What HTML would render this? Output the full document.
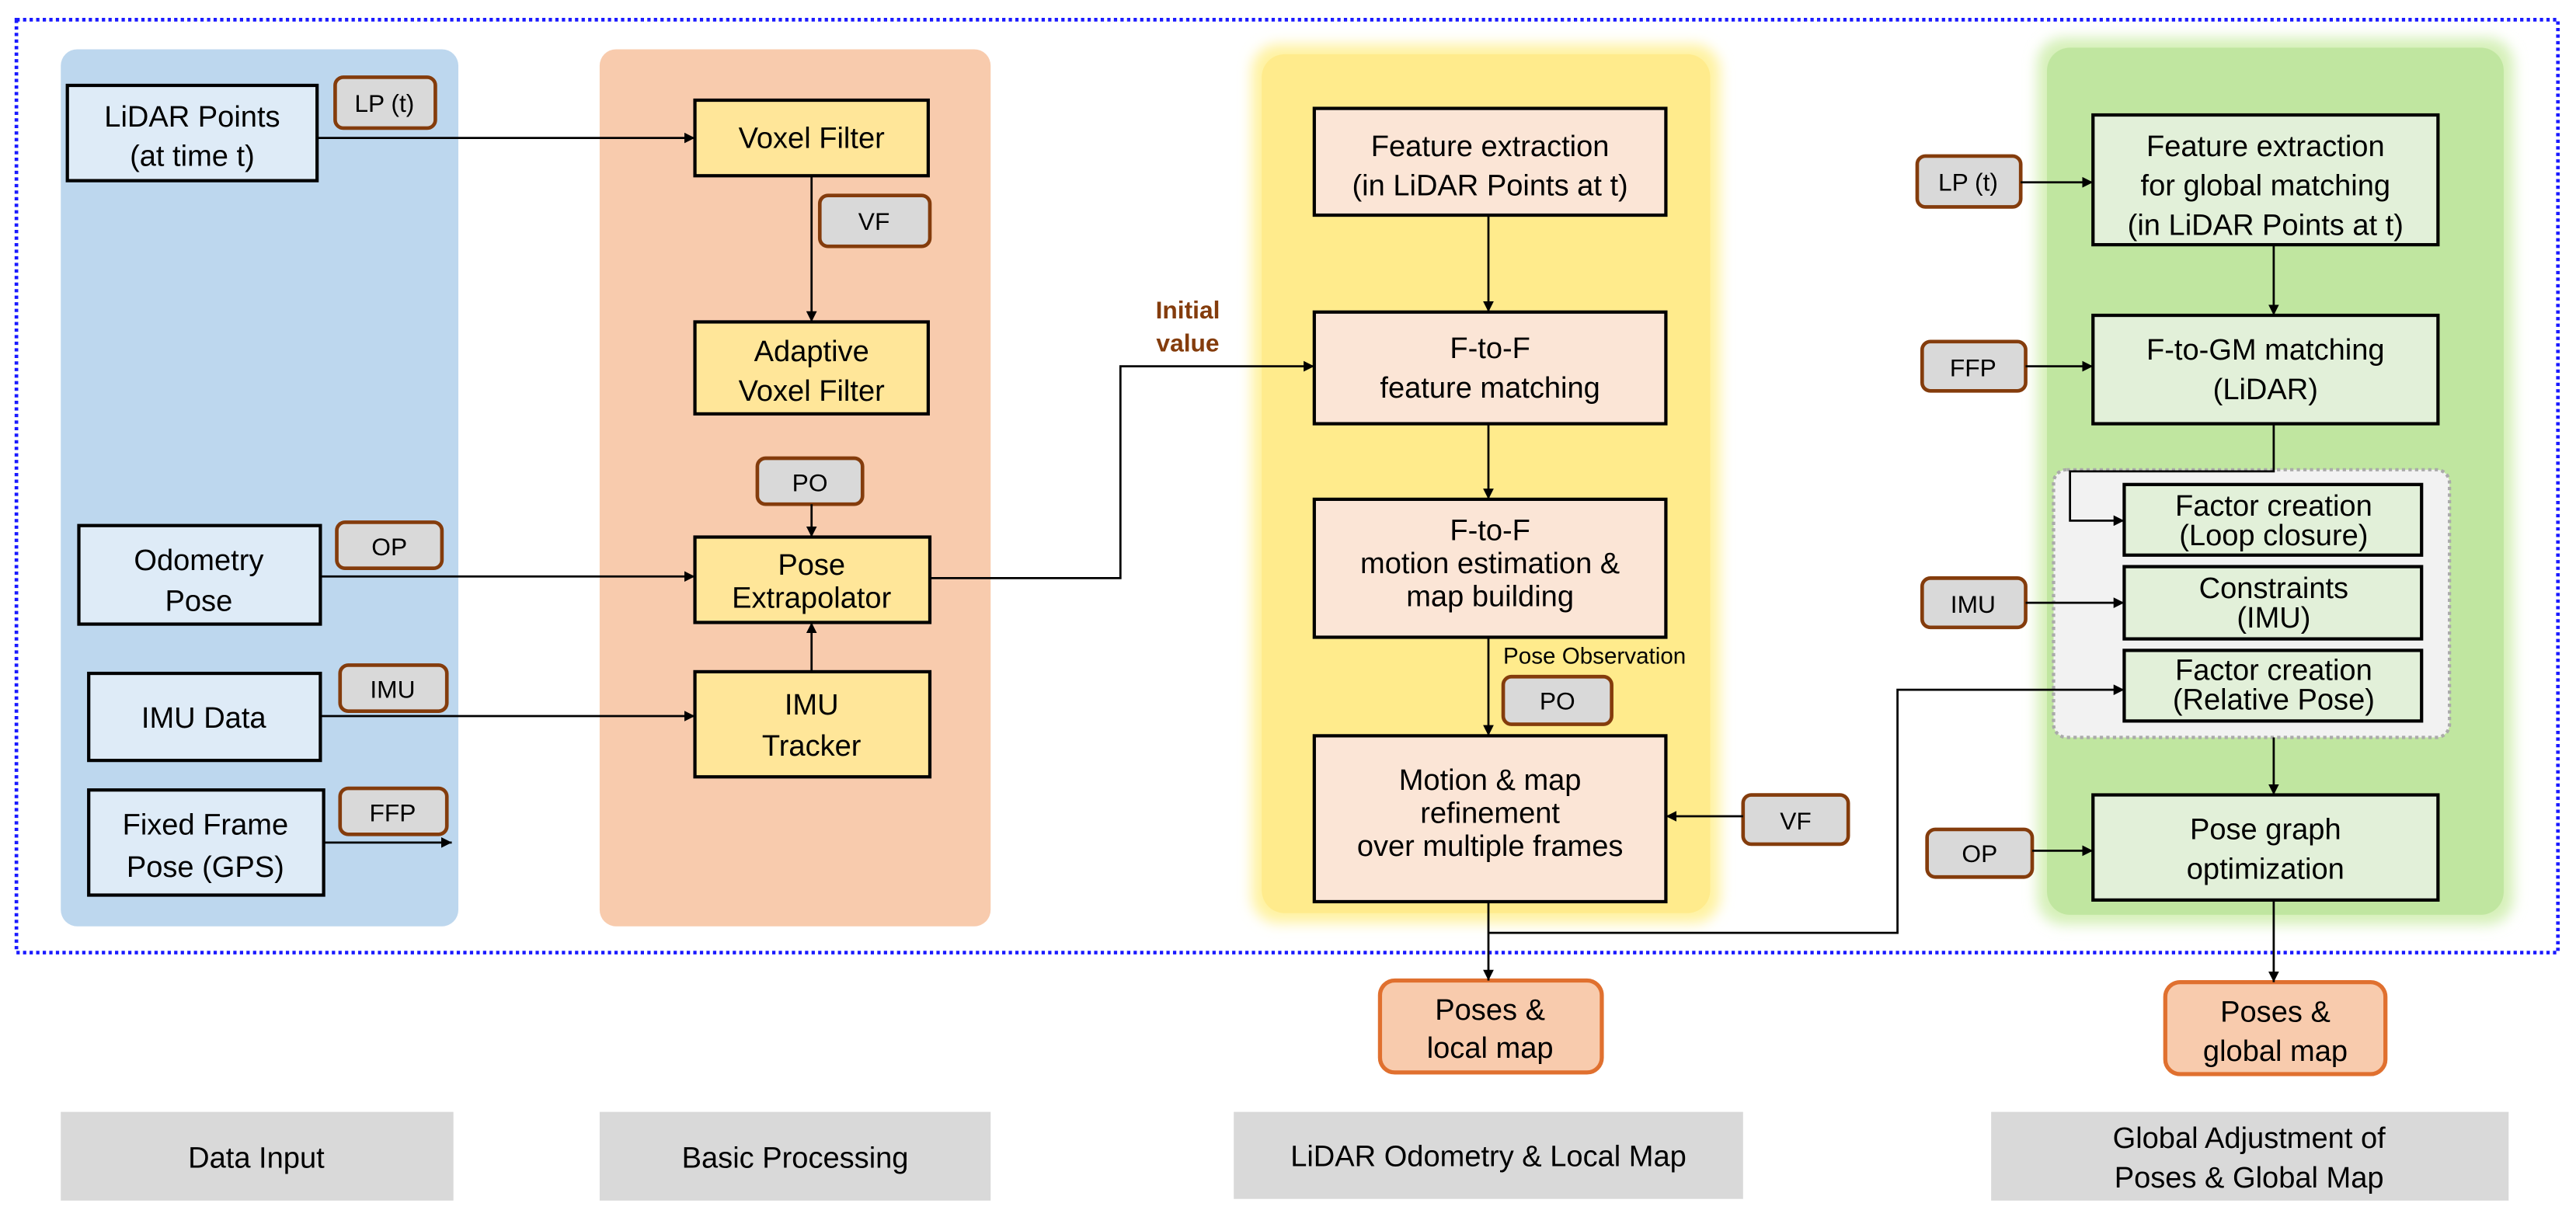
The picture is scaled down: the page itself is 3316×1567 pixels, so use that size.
<!DOCTYPE html>
<html><head><meta charset="utf-8"><style>
html,body{margin:0;padding:0;background:#fff;}
svg{display:block;}
text{font-family:"Liberation Sans","NanumGothic",sans-serif;fill:#000;}
</style></head><body>
<svg width="3316" height="1567" viewBox="0 0 1568 741" preserveAspectRatio="none" xmlns="http://www.w3.org/2000/svg">
<defs>
<marker id="a" viewBox="0 0 10 10" refX="10" refY="5" markerWidth="5" markerHeight="5" orient="auto"><path d="M0,0L10,5L0,10z" fill="#000"/></marker>
<filter id="g" x="-10%" y="-10%" width="120%" height="120%"><feGaussianBlur stdDeviation="4"/></filter>
</defs>
<rect x="37" y="30" width="242" height="534" rx="10" fill="#bdd7ee"/>
<rect x="365" y="30" width="238" height="534" rx="10" fill="#f8cbad"/>
<rect x="762" y="27" width="285" height="535" rx="16" fill="#fff2a0" filter="url(#g)"/>
<rect x="768" y="33" width="273" height="523" rx="14" fill="#ffeb8c"/>
<rect x="1240" y="23" width="290" height="540" rx="16" fill="#d5f0b8" filter="url(#g)"/>
<rect x="1246" y="29" width="278" height="528" rx="14" fill="#c0e6a0"/>
<rect x="10" y="12" width="1547" height="568" fill="none" stroke="#1a1aff" stroke-width="2.2" stroke-dasharray="2,2"/>

<g stroke="#000" stroke-width="2">
<rect x="41" y="52" width="152" height="58" fill="#deebf7"/>
<rect x="48" y="320" width="147" height="60" fill="#deebf7"/>
<rect x="54" y="410" width="141" height="53" fill="#deebf7"/>
<rect x="54" y="481" width="143" height="64" fill="#deebf7"/>
<rect x="423" y="61" width="142" height="46" fill="#ffe699"/>
<rect x="423" y="196" width="142" height="56" fill="#ffe699"/>
<rect x="423" y="327" width="143" height="52" fill="#ffe699"/>
<rect x="423" y="409" width="143" height="64" fill="#ffe699"/>
<rect x="800" y="66" width="214" height="65" fill="#fbe5d6"/>
<rect x="800" y="190" width="214" height="68" fill="#fbe5d6"/>
<rect x="800" y="304" width="214" height="84" fill="#fbe5d6"/>
<rect x="800" y="448" width="214" height="101" fill="#fbe5d6"/>
<rect x="1274" y="70" width="210" height="79" fill="#e2f0d9"/>
<rect x="1274" y="192" width="210" height="66" fill="#e2f0d9"/>
</g>
<rect x="1250" y="286" width="241" height="163" rx="8" fill="#f2f2f2" stroke="#aaa" stroke-width="2" stroke-dasharray="2,2"/>
<g stroke="#000" stroke-width="2" fill="#e2f0d9">
<rect x="1293" y="295" width="181" height="43"/>
<rect x="1293" y="345" width="181" height="44"/>
<rect x="1293" y="396" width="181" height="43"/>
<rect x="1274" y="484" width="210" height="64"/>
</g>
<g fill="#d9d9d9" stroke="#843c0c" stroke-width="2.2">
<rect x="204" y="47" width="61" height="31" rx="5"/>
<rect x="205" y="318" width="64" height="28" rx="5"/>
<rect x="207" y="405" width="65" height="28" rx="5"/>
<rect x="207" y="480" width="65" height="28" rx="5"/>
<rect x="499" y="119" width="67" height="31" rx="5"/>
<rect x="461" y="279" width="64" height="28" rx="5"/>
<rect x="915" y="412" width="66" height="29" rx="5"/>
<rect x="1061" y="484" width="64" height="30" rx="5"/>
<rect x="1167" y="95" width="63" height="31" rx="5"/>
<rect x="1170" y="208" width="63" height="30" rx="5"/>
<rect x="1170" y="352" width="63" height="30" rx="5"/>
<rect x="1173" y="505" width="64" height="29" rx="5"/>
</g>
<rect x="840" y="597" width="135" height="56" rx="9" fill="#f8cbad" stroke="#e0702f" stroke-width="2.5"/>
<rect x="1318" y="598" width="134" height="56" rx="9" fill="#f8cbad" stroke="#e0702f" stroke-width="2.5"/>
<g fill="#d9d9d9">
<rect x="37" y="677" width="239" height="54"/>
<rect x="365" y="677" width="238" height="54"/>
<rect x="751" y="677" width="310" height="53"/>
<rect x="1212" y="677" width="315" height="54"/>
</g>
<g stroke="#000" stroke-width="1.3" fill="none" marker-end="url(#a)">
<path d="M193,84H423"/>
<path d="M195,351H423"/>
<path d="M195,436H423"/>
<path d="M197,513H275"/>
<path d="M494,107V196"/>
<path d="M494,307V327"/>
<path d="M494,409V379"/>
<path d="M566,352H682V223H800"/>
<path d="M906,131V190"/>
<path d="M906,258V304"/>
<path d="M906,388V448"/>
<path d="M1061,497H1014"/>
<path d="M906,549V597"/>
<path d="M906,568H1155V420H1293"/>
<path d="M1230,111H1274"/>
<path d="M1233,223H1274"/>
<path d="M1384,149V192"/>
<path d="M1384,258V287H1260V317H1293"/>
<path d="M1233,367H1293"/>
<path d="M1384,449V484"/>
<path d="M1237,518H1274"/>
<path d="M1384,548V598"/>
</g>
<g font-size="18" text-anchor="middle">
<text x="117" y="77">LiDAR Points</text><text x="117" y="101">(at time t)</text>
<text x="121" y="347">Odometry</text><text x="121" y="372">Pose</text>
<text x="124" y="443">IMU Data</text>
<text x="125" y="508">Fixed Frame</text><text x="125" y="534">Pose (GPS)</text>
<text x="494" y="90">Voxel Filter</text>
<text x="494" y="220">Adaptive</text><text x="494" y="244">Voxel Filter</text>
<text x="494" y="350">Pose</text><text x="494" y="370">Extrapolator</text>
<text x="494" y="435">IMU</text><text x="494" y="460">Tracker</text>
<text x="907" y="95">Feature extraction</text><text x="907" y="119">(in LiDAR Points at t)</text>
<text x="907" y="218">F-to-F</text><text x="907" y="242">feature matching</text>
<text x="907" y="329">F-to-F</text><text x="907" y="349">motion estimation &amp;</text><text x="907" y="369">map building</text>
<text x="907" y="481">Motion &amp; map</text><text x="907" y="501">refinement</text><text x="907" y="521">over multiple frames</text>
<text x="1379" y="95">Feature extraction</text><text x="1379" y="119">for global matching</text><text x="1379" y="143">(in LiDAR Points at t)</text>
<text x="1379" y="219">F-to-GM matching</text><text x="1379" y="243">(LiDAR)</text>
<text x="1384" y="314">Factor creation</text><text x="1384" y="332">(Loop closure)</text>
<text x="1384" y="364">Constraints</text><text x="1384" y="382">(IMU)</text>
<text x="1384" y="414">Factor creation</text><text x="1384" y="432">(Relative Pose)</text>
<text x="1379" y="511">Pose graph</text><text x="1379" y="535">optimization</text>
<text x="907" y="621">Poses &amp;</text><text x="907" y="644">local map</text>
<text x="1385" y="622">Poses &amp;</text><text x="1385" y="646">global map</text>
<text x="156" y="711">Data Input</text>
<text x="484" y="711">Basic Processing</text>
<text x="906" y="710">LiDAR Odometry &amp; Local Map</text>
<text x="1369" y="699">Global Adjustment of</text><text x="1369" y="723">Poses &amp; Global Map</text>
</g>
<g font-size="15" text-anchor="middle">
<text x="234" y="68">LP (t)</text>
<text x="237" y="338">OP</text>
<text x="239" y="425">IMU</text>
<text x="239" y="500">FFP</text>
<text x="532" y="140">VF</text>
<text x="493" y="299">PO</text>
<text x="948" y="432">PO</text>
<text x="1093" y="505">VF</text>
<text x="1198" y="116">LP (t)</text>
<text x="1201" y="229">FFP</text>
<text x="1201" y="373">IMU</text>
<text x="1205" y="525">OP</text>
</g>
<text x="915" y="404" font-size="14">Pose Observation</text>
<g font-size="15" font-weight="bold" text-anchor="middle">
<text x="723" y="194" style="fill:#843c0c">Initial</text><text x="723" y="214" style="fill:#843c0c">value</text>
</g>
</svg>
</body></html>
